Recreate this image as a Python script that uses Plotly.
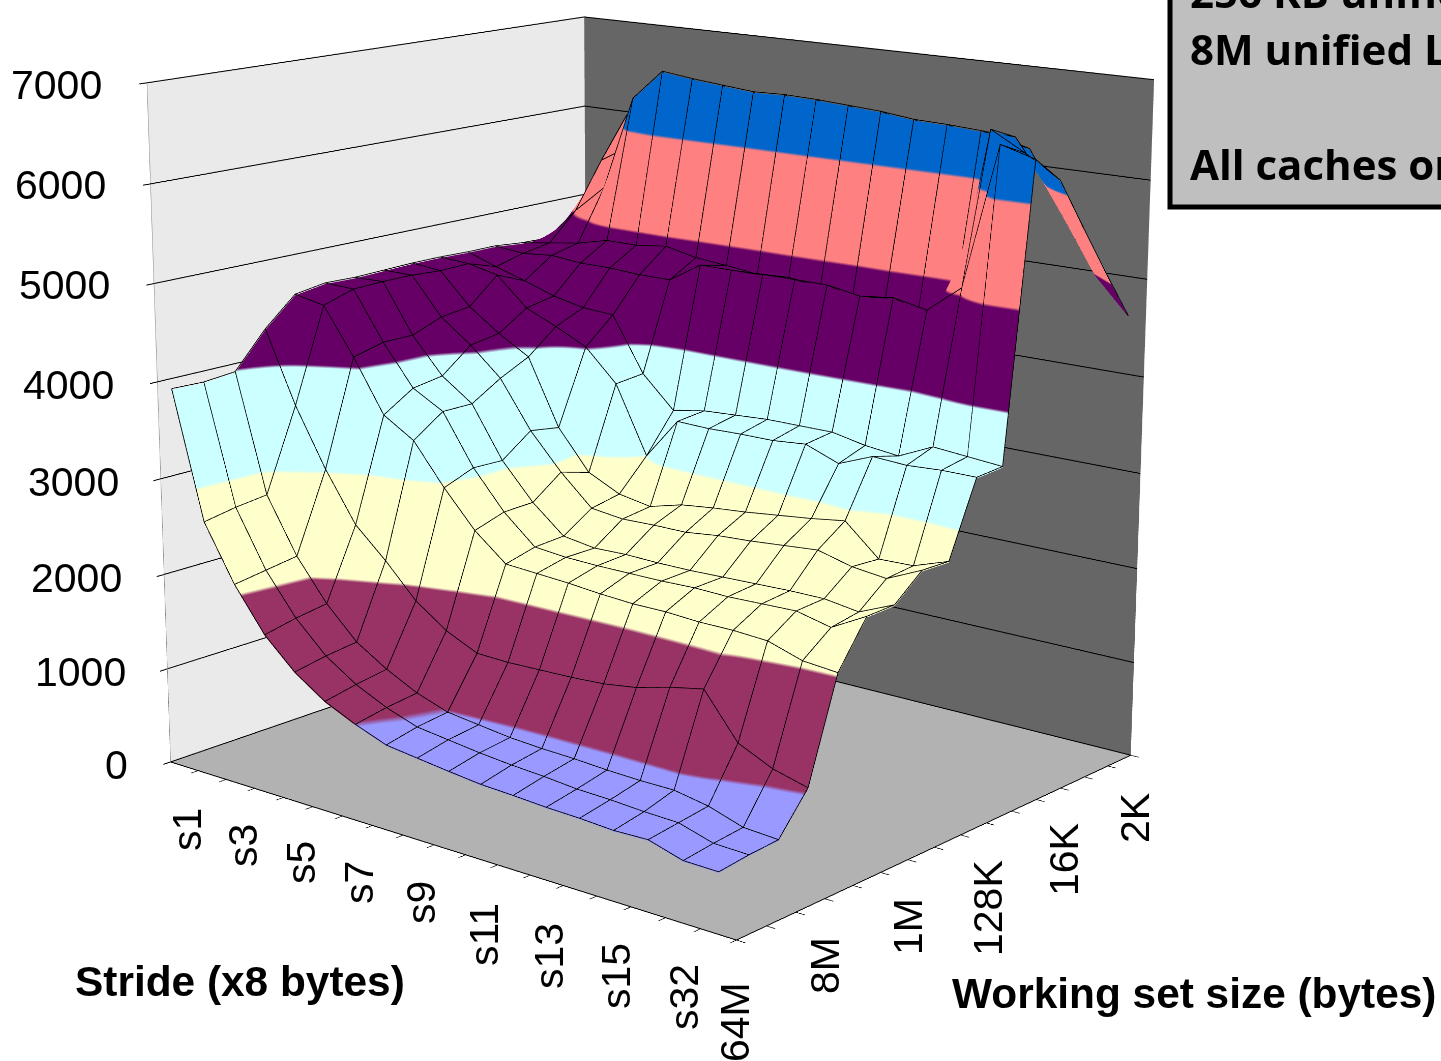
import math
import numpy as np
import plotly.graph_objects as go

strides = ["s1","s2","s3","s4","s5","s6","s7","s8","s9","s10","s11","s12","s13","s14","s15","s16","s32","s64"]
sizes = ["64M","32M","16M","8M","4M","2M","1M","512K","256K","128K","64K","32K","16K","8K","4K","2K"]
stride_labels = ["s1","s3","s5","s7","s9","s11","s13","s15","s32"]
size_labels = ["64M","8M","1M","128K","16K","2K"]
z_ticks = [0,1000,2000,3000,4000,5000,6000,7000]

# throughput (MB/s), one list per stride, 64M ... 2K
throughput = [
[3950,3940,3970,4340,4630,4680,4670,4680,4690,4690,4680,4680,4650,4640,4800,5320],
[2650,2710,2750,3600,4570,4670,4680,4680,4660,4670,4570,4650,4700,5000,5500,5950],
[2080,2130,2180,3000,4090,4170,4170,4290,4330,4600,4470,4680,4750,5300,5700,5800],
[1640,1710,1760,2490,3550,3750,3800,4050,4100,4300,4360,4650,4830,6320,6000,5700],
[1340,1400,1440,2190,3350,3570,3570,3760,3910,4160,4290,4650,4830,6650,6300,5800],
[1125,1190,1240,1850,2930,3050,3040,3270,3220,4000,4270,4630,4870,6610,6300,5800],
[980,1040,1080,1620,2560,2660,2670,2900,2810,3670,3700,4630,4800,6580,6300,5900],
[860,930,970,1470,2290,2370,2390,2590,2650,2970,3370,4840,4770,6550,6300,6000],
[820,890,930,1460,2270,2340,2340,2550,2590,3400,3430,4840,4730,6560,6350,6100],
[780,850,890,1470,2250,2330,2350,2560,2680,3390,3450,4850,4750,6550,6350,6150],
[745,820,870,1480,2220,2330,2340,2560,2720,3400,3470,4850,4710,6530,6350,6200],
[730,800,860,1500,2200,2330,2340,2600,2750,3400,3470,4850,4660,6510,6350,6200],
[710,770,840,1550,2200,2340,2350,2620,2790,3430,3470,4790,4700,6470,6300,6200],
[700,760,830,1640,2180,2330,2360,2650,2830,3300,3400,4830,4630,6460,6300,6200],
[680,740,830,1710,2180,2340,2370,2680,2880,3440,3360,4760,4630,6440,6300,6150],
[690,730,770,1270,2160,2350,2370,2590,2570,3420,3520,5040,6550,6420,6000,5600],
[590,630,660,1110,2050,2270,2320,2550,2580,3440,3490,6500,6360,5950,5450,4960],
[585,620,640,1020,2020,2460,2470,2710,2700,3440,3460,6400,6140,5610,5090,4590],
]
band_colors = ["#9999FF","#993366","#FFFFCC","#CCFFFF","#660066","#FF8080","#0066CC"]

# page geometry
FIG = 2930
AZ = math.radians(40); EL = math.radians(14.0); R = 5.46
ASPECT = dict(x=1.142, y=1.0, z=1.077)
SCENE_X, SCENE_Y = 652, 428   # where the box centre goes on the page
LEFT, TOP = SCENE_X-FIG/2, SCENE_Y-FIG/2

# where the tick labels sit on the page: centre x, y
STRIDE_LABEL_POS = [(187,830),(243,846),(301,863),(359,883),(421,903),(484,935),(549,956),(616,976),(684,997)]
SIZE_LABEL_POS = [(735,1022),(825,966),(908,926),(988,908),(1064,860),(1135,818)]
Z_LABEL_POS = [(130,765),(128,672),(124,578),(121,482),(116,385),(112,285),(108,185),(104,85)]

x = list(range(len(strides)))
y = list(range(len(sizes)))
z = np.array(throughput).T

cs = []
for k, c in enumerate(band_colors):
    cs += [[k/7, c], [(k+1)/7, c]]

eye = np.array([math.sin(AZ)*math.cos(EL), -math.cos(AZ)*math.cos(EL), math.sin(EL)])*R

fig = go.Figure(go.Surface(
    x=x, y=y, z=z, surfacecolor=z, colorscale=cs, cmin=0, cmax=7000, showscale=False,
    lighting=dict(ambient=1, diffuse=0, specular=0, fresnel=0, roughness=1),
    contours=dict(x=dict(highlight=False), y=dict(highlight=False), z=dict(highlight=False)),
    hoverinfo="skip",
))

# wire mesh drawn from the same data, lifted a hair so it does not fight with the surface
LIFT = 12
wx, wy, wz = [], [], []
for i in x:
    wx += [i]*len(y) + [None]; wy += y + [None]; wz += list(z[:, i] + LIFT) + [None]
for j in y:
    wx += x + [None]; wy += [j]*len(x) + [None]; wz += list(z[j, :] + LIFT) + [None]
fig.add_trace(go.Scatter3d(x=wx, y=wy, z=wz, mode="lines", line=dict(color="black", width=1.6),
                           hoverinfo="skip", showlegend=False, connectgaps=False))

fig.update_layout(
    width=FIG, height=FIG, margin=dict(l=0, r=0, t=0, b=0), paper_bgcolor="white",
    showlegend=False,
    scene=dict(
        domain=dict(x=[0,1], y=[0,1]),
        aspectmode="manual", aspectratio=ASPECT,
        camera=dict(eye=dict(x=eye[0],y=eye[1],z=eye[2]),
                    center=dict(x=0,y=0,z=0),
                    up=dict(x=0,y=0,z=1)),
        xaxis=dict(range=[-0.5,17.5], title="", tickmode="array",
                   tickvals=[i-0.5 for i in range(len(strides)+1)], showticklabels=False,
                   showgrid=False, zeroline=False,
                   showbackground=True, backgroundcolor="#EAEAEA", showspikes=False,
                   showline=True, linecolor="black", linewidth=2, ticks="outside", ticklen=8, tickwidth=2, tickcolor="black"),
        yaxis=dict(range=[0,15], title="", tickmode="array",
                   tickvals=y, showticklabels=False,
                   showgrid=False, zeroline=False,
                   showbackground=True, backgroundcolor="#666666", showspikes=False,
                   showline=True, linecolor="black", linewidth=2, ticks="outside", ticklen=8, tickwidth=2, tickcolor="black"),
        zaxis=dict(range=[0,7000], title="", tickmode="array", tickvals=z_ticks, showticklabels=False,
                   showgrid=True, gridcolor="black", gridwidth=2, zeroline=False,
                   showbackground=True, backgroundcolor="#B2B2B2", showspikes=False,
                   showline=True, linecolor="#888888", ticks="outside", ticklen=8, tickwidth=2, tickcolor="black"),
    ),
)

def px(xp): return (xp-LEFT)/FIG
def py(yp): return 1-(yp-TOP)/FIG

def label(txt, xp, yp, size, family="Liberation Sans", angle=0, xanchor="center", bold=False):
    fig.add_annotation(xref="paper", yref="paper", x=px(xp), y=py(yp), text=f"<b>{txt}</b>" if bold else txt,
                       showarrow=False, textangle=angle, xanchor=xanchor, yanchor="middle",
                       font=dict(family=family, size=size, color="black"))

fig.add_shape(type="rect", xref="paper", yref="paper", x0=px(1170), x1=px(1500), y0=py(-20), y1=py(207),
              fillcolor="#BFBFBF", line=dict(color="black", width=5))
for txt, yp in [("256 KB unified L2 cache",-8),("8M unified L3 cache",48),("All caches on-chip",163)]:
    label(txt, 1188, yp, 42, family="Open Sans", xanchor="left", bold=True)
for txt, xp, yp in [("Stride (x8 bytes)",240,981),("Working set size (bytes)",1194,993)]:
    label(txt, xp, yp, 42.4, bold=True)
for t, (xp, yp) in zip(stride_labels, STRIDE_LABEL_POS):
    label(t, xp, yp, 41, angle=-90)
for t, (xp, yp) in zip(size_labels, SIZE_LABEL_POS):
    label(t, xp, yp, 41, angle=-90)
for t, (xp, yp) in zip(z_ticks, Z_LABEL_POS):
    label(str(t), xp, yp, 41, xanchor="right")

shift = ("document.documentElement.style.overflow='hidden';document.body.style.overflow='hidden';"
         "document.body.style.margin='0';var d=document.querySelector('.plotly-graph-div');"
         f"d.style.position='absolute';d.style.left='{LEFT}px';d.style.top='{TOP}px';")
fig.write_html("out.html", post_script=shift)
